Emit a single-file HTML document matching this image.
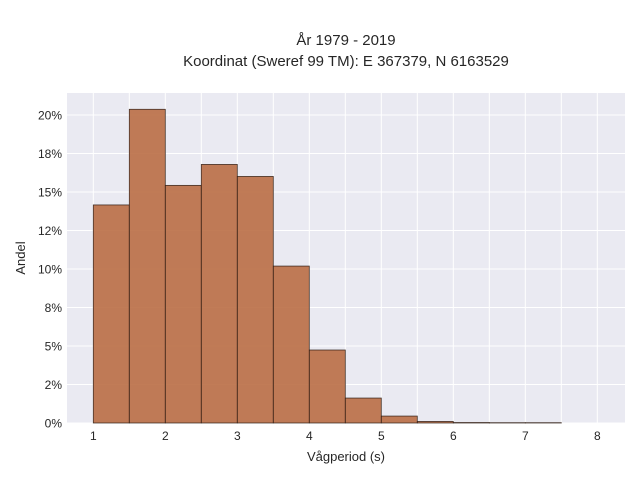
<!DOCTYPE html>
<html><head><meta charset="utf-8"><style>
body{margin:0;background:#fff;}
svg{display:block;font-family:"Liberation Sans",sans-serif;}
</style></head><body>
<svg id="chart" width="640" height="480">
<text x="346" y="45" text-anchor="middle" font-size="15" fill="#262626">År 1979 - 2019</text>
<text x="346" y="66" text-anchor="middle" font-size="15" fill="#262626">Koordinat (Sweref 99 TM): E 367379, N 6163529</text>
<rect x="67" y="93" width="558" height="330" fill="#eaeaf2"/>
<g id="grid"></g>
<g id="bars"></g>
<g id="ticks"></g>
<text x="346" y="461" text-anchor="middle" font-size="13" fill="#262626">Vågperiod (s)</text>
<text transform="translate(25,258) rotate(-90)" text-anchor="middle" font-size="13" fill="#262626">Andel</text>
</svg>
<script>
const binStarts=[1,1.5,2,2.5,3,3.5,4,4.5,5,5.5,6,6.5,7];
const binValues=[0.1416,0.2037,0.1543,0.1679,0.1601,0.1019,0.0474,0.0162,0.0045,0.0010,0.0003,0.0002,0.0002];
const xTicks=[1,2,3,4,5,6,7,8];
const xTickLabels=["1","2","3","4","5","6","7","8"];
const yTicks=[0,0.025,0.05,0.075,0.1,0.125,0.15,0.175,0.2];
const yTickLabels=["0%","2%","5%","8%","10%","12%","15%","18%","20%"];
const binWidth=0.5;
const NS="http://www.w3.org/2000/svg";
const X=v=>93.3+(v-1)*72;
const Y=v=>423-v*1540;
const grid=document.getElementById('grid'),bars=document.getElementById('bars'),ticks=document.getElementById('ticks');
function mk(tag,attrs,parent){const e=document.createElementNS(NS,tag);for(const k in attrs)e.setAttribute(k,attrs[k]);parent.appendChild(e);return e;}
for(let v=1;v<=8.001;v+=0.5){
 const l=mk('line',{x1:X(v),x2:X(v),y1:93,y2:423,stroke:'#fff','stroke-width':1},grid);
 
 
}
yTicks.forEach((v,i)=>{
 const l=mk('line',{x1:67,x2:625,y1:Y(v),y2:Y(v),stroke:'#fff','stroke-width':1},grid);
 
 
 const t=mk('text',{x:62,y:Y(v)+4.5,'text-anchor':'end','font-size':12,fill:'#262626'},ticks);
 t.textContent=yTickLabels[i];
 
 
});
xTicks.forEach((v,i)=>{
 const t=mk('text',{x:X(v),y:440,'text-anchor':'middle','font-size':12,fill:'#262626'},ticks);
 t.textContent=xTickLabels[i];
 
 
});
binStarts.forEach((s,i)=>{
 const x0=X(s),x1=X(s+binWidth),y=Y(binValues[i]);
 const r=mk('rect',{x:x0,y:y,width:x1-x0,height:423-y,fill:'rgba(184,106,64,0.88)',stroke:'#2a1a12','stroke-width':0.8,'stroke-opacity':0.85},bars);
 
 
});
</script>
</body></html>
